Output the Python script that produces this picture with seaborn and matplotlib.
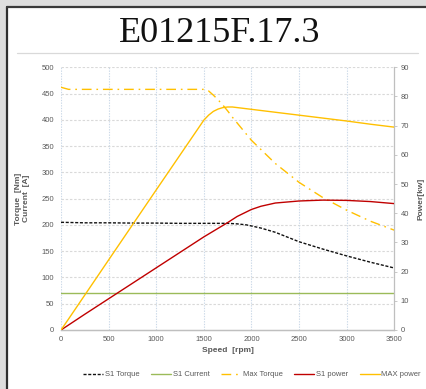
import matplotlib
matplotlib.use("Agg")
import matplotlib.pyplot as plt
from matplotlib.patches import Rectangle
from matplotlib.lines import Line2D
import seaborn as sns
import pandas as pd

# Continuous (S1) operating curves
s1_speed = [0, 250, 500, 750, 1000, 1250, 1500, 1750, 1850, 1950, 2000, 2100,
            2250, 2500, 2750, 3000, 3250, 3500]
s1_torque = [205, 204, 204, 203.5, 203.5, 203, 203, 203, 202, 200, 198, 194,
             186, 168, 154, 141, 129, 118]
s1_power = [0, 5.4, 10.7, 16.0, 21.3, 26.6, 31.9, 36.8, 38.9, 40.5, 41.3, 42.4,
            43.5, 44.2, 44.5, 44.4, 44.0, 43.3]
s1_current = [70] * len(s1_speed)

# Peak (max) operating curves
max_speed = [0, 80, 500, 1000, 1500, 1550, 1600, 1650, 1700, 1750, 1800, 2000,
             2250, 2500, 2750, 3000, 3250, 3500]
max_torque = [462, 458, 458, 458, 458, 455, 447, 438, 428, 417, 405, 361,
              317, 281, 252, 228, 207, 190]
max_power = [0, 3.8, 24.0, 48.0, 71.9, 73.6, 74.9, 75.7, 76.2, 76.4, 76.4, 75.6,
             74.6, 73.6, 72.6, 71.6, 70.5, 69.5]

x_ticks = [0, 500, 1000, 1500, 2000, 2500, 3000, 3500]
left_ticks = list(range(0, 501, 50))
right_ticks = list(range(0, 91, 10))

title = "E01215F.17.3"
labels = ["S1 Torque", "S1 Current", "Max Torque", "S1 power", "MAX power"]

df_s1 = pd.DataFrame({"speed": s1_speed, "torque": s1_torque,
                      "power": s1_power, "current": s1_current})
df_max = pd.DataFrame({"speed": max_speed, "torque": max_torque,
                       "power": max_power})

sns.set_style("white")
plt.rcParams["font.family"] = ["Liberation Sans", "DejaVu Sans"]

c_black = "#111111"
c_green = "#9BBB59"
c_yellow = "#FFC000"
c_red = "#C00000"
c_text = "#595959"
c_grid = "#d9d9d9"

fig = plt.figure(figsize=(4.27, 3.89), dpi=100, facecolor="#dedede")
# white sheet with dark frame on top/left
fig.patches.append(Rectangle((8 / 427, 0), 1, 1 - 7 / 389, transform=fig.transFigure,
                             facecolor="white", edgecolor="none", zorder=-10))
fig.add_artist(Line2D([7.5 / 427, 7.5 / 427], [0, 1 - 6.5 / 389], color="#303030",
                      lw=1.6, transform=fig.transFigure, zorder=-5))
fig.add_artist(Line2D([7.5 / 427, 1], [1 - 6.5 / 389, 1 - 6.5 / 389], color="#3a3a3a",
                      lw=1.6, transform=fig.transFigure, zorder=-5))
# rule under the title
fig.add_artist(Line2D([17 / 427, 418 / 427], [1 - 53 / 389, 1 - 53 / 389],
                      color="#d9d9d9", lw=0.9, transform=fig.transFigure, zorder=-5))

fig.text(220 / 427, 1 - 33 / 389, title, ha="center", va="center",
         fontsize=26, family=["Liberation Serif", "DejaVu Serif"], color="#111111")

ax = fig.add_axes([61 / 427, 1 - 330 / 389, (394.3 - 61) / 427, (330 - 67.3) / 389])
ax.set_facecolor("none")
ax2 = ax.twinx()
ax2.set_facecolor("none")

lw = 1.0
sns.lineplot(data=df_s1, x="speed", y="torque", ax=ax, color=c_black, lw=lw,
             linestyle=(0, (2.2, 1.2)), zorder=5)
sns.lineplot(data=df_s1, x="speed", y="current", ax=ax, color=c_green, lw=lw, zorder=4)
sns.lineplot(data=df_max, x="speed", y="torque", ax=ax, color=c_yellow, lw=lw,
             linestyle=(0, (7, 3.5, 1.2, 3.5)), zorder=4)
sns.lineplot(data=df_s1, x="speed", y="power", ax=ax2, color=c_red, lw=lw, zorder=4)
sns.lineplot(data=df_max, x="speed", y="power", ax=ax2, color=c_yellow, lw=lw, zorder=4)

ax.set_xlim(0, 3500)
ax.set_ylim(0, 500)
ax2.set_ylim(0, 90)
ax.set_xticks(x_ticks)
ax.set_yticks(left_ticks)
ax2.set_yticks(right_ticks)

# grid: dashed grey rows, dotted bluish columns
for v in left_ticks[1:]:
    ax.axhline(v, color=c_grid, lw=0.8, linestyle=(0, (2.2, 1.6)), zorder=1)
for v in x_ticks[:-1]:
    ax.axvline(v, color="#cbd9e8", lw=0.8, linestyle=(0, (1.2, 1.2)), zorder=1)

for a in (ax, ax2):
    for s in ("top", "left", "right"):
        a.spines[s].set_visible(False)
    a.spines["bottom"].set_color("#bfbfbf")
    a.spines["bottom"].set_linewidth(0.9)
ax2.spines["right"].set_visible(True)
ax2.spines["right"].set_color("#bfbfbf")
ax2.spines["right"].set_linewidth(0.9)

ax.tick_params(axis="x", length=0, pad=4, labelsize=5.5, labelcolor=c_text)
ax.tick_params(axis="y", length=0, pad=5, labelsize=5.5, labelcolor=c_text)
ax2.tick_params(axis="y", length=2.5, width=0.6, color="#bfbfbf", pad=2,
                labelsize=5.5, labelcolor=c_text)

ax.set_xlabel("Speed  [rpm]", fontsize=6, fontweight="bold", color=c_text, labelpad=3)
ax.set_ylabel("Torque  [Nm]\nCurrent  [A]", fontsize=6, fontweight="bold",
              color=c_text, labelpad=8, linespacing=1.2)
ax2.set_ylabel("Power[kw]", fontsize=6, fontweight="bold", color=c_text, labelpad=6)

handles = [
    Line2D([], [], color=c_black, lw=lw, linestyle=(0, (2.2, 1.2))),
    Line2D([], [], color=c_green, lw=lw),
    Line2D([], [], color=c_yellow, lw=lw, linestyle=(0, (7, 3.5, 1.2, 3.5))),
    Line2D([], [], color=c_red, lw=lw),
    Line2D([], [], color=c_yellow, lw=lw),
]
leg = fig.legend(handles, labels, loc="center", ncol=5,
                 bbox_to_anchor=(252 / 427, 1 - 374.5 / 389), frameon=False,
                 fontsize=5.5, handlelength=2.6, handletextpad=0.2,
                 columnspacing=1.55)
for t in leg.get_texts():
    t.set_color(c_text)

fig.savefig("out.png", dpi=100, facecolor=fig.get_facecolor())
